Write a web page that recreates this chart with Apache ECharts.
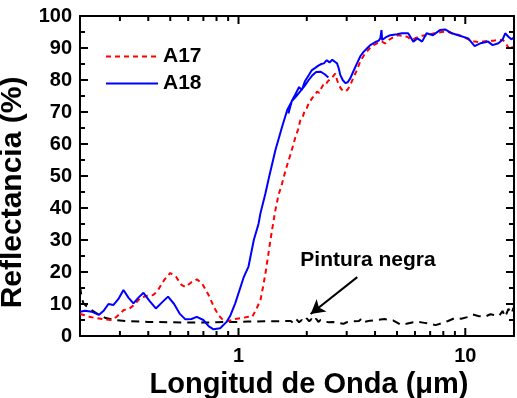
<!DOCTYPE html>
<html>
<head>
<meta charset="utf-8">
<script src="https://cdn.jsdelivr.net/npm/echarts@6/dist/echarts.min.js"></script>
<style>
  html, body { margin: 0; padding: 0; background: #fff; }
  #chart { width: 517px; height: 398px; }
</style>
</head>
<body>
<div id="chart"></div>
<script>
// longitud de onda (um), reflectancia (%)
var a17 = [
  [0.2, 6.9], [0.21, 6.5], [0.22, 6.0], [0.235, 5.6], [0.255, 5.2], [0.273, 5.0], [0.29, 6.0],
  [0.312, 8.1], [0.33, 8.5], [0.346, 9.7], [0.37, 12.0], [0.396, 12.6], [0.42, 12.8], [0.438, 13.9],
  [0.47, 17.5], [0.5, 19.7], [0.53, 18.5], [0.56, 16.0], [0.583, 15.3], [0.62, 16.8], [0.655, 17.7],
  [0.69, 16.5], [0.738, 12.8], [0.78, 9.0], [0.816, 6.5], [0.85, 5.2], [0.888, 4.6], [0.93, 4.9],
  [0.967, 5.3], [1.03, 5.6], [1.107, 6.0], [1.15, 6.0], [1.2, 8.5], [1.25, 11.3], [1.28, 15],
  [1.315, 19.6], [1.35, 25], [1.383, 30], [1.42, 35], [1.455, 39.4], [1.5, 44], [1.557, 47.7],
  [1.585, 49.8], [1.64, 53.5], [1.7, 57], [1.74, 59.5], [1.78, 62], [1.83, 64.5], [1.875, 67.5],
  [1.92, 68.5], [1.96, 70.5], [2.0, 71.2], [2.04, 72.7], [2.08, 72.2], [2.12, 74.5], [2.17, 75.2],
  [2.22, 76.4], [2.27, 76.0], [2.32, 77.5], [2.37, 78.6], [2.42, 78.4], [2.47, 79.5], [2.52, 80],
  [2.6, 81], [2.67, 82], [2.72, 80], [2.77, 78.4], [2.85, 77], [2.96, 76.4], [3.03, 77],
  [3.11, 78.4], [3.2, 80.5], [3.33, 83.1], [3.45, 86], [3.62, 88.3], [3.8, 90], [3.94, 90.9],
  [4.1, 91.5], [4.29, 92], [4.43, 91.4], [4.6, 92.5], [4.8, 93.3], [5.07, 94], [5.3, 93.8],
  [5.55, 93.5], [5.8, 92.5], [6.1, 93.2], [6.4, 93.8], [6.75, 94], [7.2, 94.5], [7.85, 95],
  [8.3, 95.2], [8.73, 94.6], [9.2, 94.2], [9.6, 93.8], [10.0, 93.2], [10.5, 92.4], [11.0, 92],
  [11.5, 91.8], [12.0, 92], [12.6, 92.2], [13.3, 92.3], [14.0, 92.5], [14.6, 92.6], [15.0, 91.8],
  [15.4, 90.4], [15.8, 89.4], [16.2, 90.5]
];
// A18: dos tramos (detectores) que se solapan entre 1.7 y 2.5 um
var a18 = [
  [0.2, 7.6], [0.211, 7.9], [0.225, 7.6], [0.242, 6.6], [0.255, 8.0], [0.267, 10.0], [0.281, 9.7],
  [0.295, 11.5], [0.311, 14.4], [0.327, 12.0], [0.344, 10.2], [0.362, 12.0], [0.381, 13.5],
  [0.405, 11.0], [0.432, 8.6], [0.46, 10.5], [0.489, 12.3], [0.52, 10.0], [0.55, 7.0], [0.583, 5.2],
  [0.62, 5.3], [0.655, 6.0], [0.7, 5.0], [0.74, 3.0], [0.776, 2.1], [0.83, 2.4], [0.888, 4.5],
  [0.922, 6.5], [0.967, 10.2], [1.056, 18.5], [1.107, 21.7], [1.168, 30], [1.225, 35], [1.25, 38.4],
  [1.315, 44.6], [1.36, 49.3], [1.455, 58.1], [1.557, 65.4], [1.64, 70.6], [1.723, 73.5],
  [1.8, 75], [1.875, 76.5], [1.95, 78], [2.04, 80], [2.12, 81.5], [2.2, 82.5], [2.3, 82.6],
  [2.4, 81.8], [2.49, 80.8],
  null,
  [1.66, 69.5], [1.72, 73.5], [1.78, 75.5], [1.85, 77.8], [1.9, 76.8], [1.96, 79.5], [2.04, 81.5],
  [2.1, 83], [2.18, 83.8], [2.25, 84.5], [2.32, 85], [2.38, 85.2], [2.45, 86.2], [2.52, 85.5],
  [2.59, 86.3], [2.65, 85.8], [2.72, 85.2], [2.77, 83.5], [2.81, 81.6], [2.88, 80], [2.96, 79],
  [3.03, 79.3], [3.11, 80.5], [3.2, 82.5], [3.33, 85.2], [3.45, 87.5], [3.56, 88.8], [3.7, 90],
  [3.81, 90.9], [4.0, 91.8], [4.15, 92.3], [4.22, 93], [4.27, 95.6], [4.3, 92.5], [4.45, 93.3],
  [4.67, 94], [5.0, 94.3], [5.25, 94.6], [5.6, 94.6], [5.9, 92], [6.15, 93], [6.45, 92],
  [6.75, 94.6], [7.2, 94], [7.73, 95.6], [8.15, 95.8], [8.73, 94.6], [9.3, 94], [10.3, 93],
  [11.0, 90.6], [11.7, 91.5], [12.6, 92], [13.2, 90.9], [14.0, 91.5], [14.6, 92.6], [15.0, 94.6],
  [15.5, 93.5], [16.0, 92.7], [16.3, 93.2]
];
var pintura = [
  [0.2, 15.5], [0.203, 12.5], [0.207, 10.2], [0.22, 8.5], [0.235, 7.2], [0.26, 5.6], [0.29, 4.9],
  [0.33, 4.6], [0.4, 4.4], [0.5, 4.3], [0.6, 4.2], [0.7, 4.2], [0.8, 4.3], [0.9, 4.4], [1.0, 4.4],
  [1.1, 4.5], [1.3, 4.6], [1.5, 4.6], [1.7, 4.7], [1.75, 4.0], [1.8, 5.2], [1.85, 4.3], [1.9, 5.0],
  [1.95, 4.4], [2.0, 5.5], [2.05, 4.6], [2.1, 5.3], [2.15, 4.5], [2.2, 5.4], [2.25, 4.4], [2.3, 5.0],
  [2.4, 4.5], [2.5, 4.3], [2.6, 4.4], [2.7, 4.2], [2.8, 4.0], [2.9, 3.8], [3.0, 4.3], [3.2, 4.6],
  [3.4, 4.7], [3.5, 5.5], [3.6, 4.4], [3.8, 4.8], [4.1, 5.0], [4.4, 5.3], [4.8, 4.9], [5.2, 3.5],
  [5.5, 3.8], [5.9, 4.3], [6.2, 4.4], [6.6, 4.1], [7.0, 3.8], [7.4, 3.4], [7.8, 3.9], [8.4, 4.7],
  [9.0, 5.6], [9.6, 5.4], [10.2, 5.9], [10.8, 6.7], [11.5, 6.2], [12.2, 6.0], [12.9, 6.8],
  [13.5, 6.5], [14.1, 6.3], [14.6, 7.8], [15.0, 6.0], [15.5, 8.5], [16.0, 7.0], [16.3, 8.8]
];
var xMajor = [1, 10];
var xMinor = [0.2, 0.3, 0.4, 0.5, 0.6, 0.7, 0.8, 0.9, 2, 3, 4, 5, 6, 7, 8, 9];
var yMajor = [10, 20, 30, 40, 50, 60, 70, 80, 90];
var yMinor = [5, 15, 25, 35, 45, 55, 65, 75, 85, 95];
var xMin = 0.2, xMax = 16.4;
// flecha "Pintura negra"
var flecha = [[3.34, 18.4], [2.08, 6.9]];

// eje x logaritmico: se dibuja en log10(lambda)
function lg(v) { return Math.log10(v); }
function toLog(arr) {
  return arr.map(function (p) { return p ? [lg(p[0]), p[1]] : null; });
}

// marcas de los ejes hacia dentro en los cuatro lados: [x, y, dx, dy]
var marcas = [];
function addX(list, len) {
  list.forEach(function (v) {
    marcas.push([lg(v), 0, 0, -len]);
    marcas.push([lg(v), 100, 0, len]);
  });
}
function addY(list, len) {
  list.forEach(function (v) {
    marcas.push([lg(xMin), v, len, 0]);
    marcas.push([lg(xMax), v, -len, 0]);
  });
}
addX(xMajor, 8); addX(xMinor, 5); addY(yMajor, 8); addY(yMinor, 5);

var font = 'Arial, "Liberation Sans", sans-serif';
var chart = echarts.init(document.getElementById('chart'));

function xAxisOf(pos, labels) {
  return {
    type: 'value', min: lg(xMin), max: lg(xMax), position: pos,
    axisLine: { show: true, onZero: false, lineStyle: { color: '#000', width: 2 } },
    axisTick: { show: false },
    axisLabel: {
      show: labels, customValues: xMajor.map(lg), margin: 10,
      formatter: function (v) { return String(Math.round(Math.pow(10, v))); },
      color: '#000', fontSize: 20, fontWeight: 'bold', fontFamily: font
    },
    splitLine: { show: false }
  };
}
function yAxisOf(pos, labels) {
  return {
    type: 'value', min: 0, max: 100, interval: 10, position: pos,
    axisLine: { show: true, onZero: false, lineStyle: { color: '#000', width: 2 } },
    axisTick: { show: false },
    axisLabel: { show: labels, margin: 8, color: '#000', fontSize: 20, fontWeight: 'bold', fontFamily: font },
    splitLine: { show: false }
  };
}

var xb = xAxisOf('bottom', true);
xb.name = 'Longitud de Onda (\u03bcm)';
xb.nameLocation = 'middle';
xb.nameGap = 33;
xb.nameTextStyle = { color: '#000', fontSize: 29, fontWeight: 'bold', fontFamily: font, padding: [0, 0, 0, 24] };
var yl = yAxisOf('left', true);
yl.name = 'Reflectancia (%)';
yl.nameLocation = 'middle';
yl.nameGap = 45;
yl.nameTextStyle = { color: '#000', fontSize: 30, fontWeight: 'bold', fontFamily: font, padding: [0, 33, 0, 0] };

var option = {
  backgroundColor: '#fff',
  animation: false,
  grid: { left: 80, right: 3, top: 16, bottom: 62, outerBoundsMode: 'none' },
  legend: {
    data: ['A17', 'A18'], orient: 'vertical', left: 105, top: 46, padding: 0,
    itemWidth: 52, itemHeight: 14, itemGap: 6,
    itemStyle: { opacity: 0 },
    textStyle: { color: '#000', fontSize: 21, fontWeight: 'bold', fontFamily: font }
  },
  xAxis: [xb, xAxisOf('top', false)],
  yAxis: [yl, yAxisOf('right', false)],
  graphic: [{
    type: 'text', x: 368, y: 260,
    style: { text: 'Pintura negra', fill: '#000', font: 'bold 21px ' + font,
      align: 'center', verticalAlign: 'middle', textAlign: 'center', textVerticalAlign: 'middle' }
  }],
  series: [
    {
      name: 'marcas', type: 'custom', data: marcas, z: 5, silent: true, clip: false,
      renderItem: function (params, api) {
        var p = api.coord([api.value(0), api.value(1)]);
        return {
          type: 'line', silent: true,
          shape: { x1: p[0], y1: p[1], x2: p[0] + api.value(2), y2: p[1] + api.value(3) },
          style: { stroke: '#000', lineWidth: 2 }
        };
      }
    },
    {
      name: 'Pintura negra', type: 'line', data: toLog(pintura), showSymbol: false, symbol: 'none',
      lineStyle: { color: '#000', width: 2, type: [8, 6] },
      markLine: {
        silent: true, symbol: ['none', 'arrow'], symbolSize: [12, 14],
        label: { show: false },
        lineStyle: { color: '#000', width: 2, type: 'solid' },
        data: [[{ coord: [lg(flecha[0][0]), flecha[0][1]] }, { coord: [lg(flecha[1][0]), flecha[1][1]] }]]
      }
    },
    {
      name: 'A17', type: 'line', data: toLog(a17), showSymbol: false, symbol: 'none',
      itemStyle: { color: '#ff0000' },
      lineStyle: { color: '#ff0000', width: 2, type: [5, 4] }
    },
    {
      name: 'A18', type: 'line', data: toLog(a18), showSymbol: false, symbol: 'none', connectNulls: false,
      itemStyle: { color: '#0000ff' },
      lineStyle: { color: '#0000ff', width: 2 }
    }
  ]
};
chart.setOption(option);
</script>
</body>
</html>
